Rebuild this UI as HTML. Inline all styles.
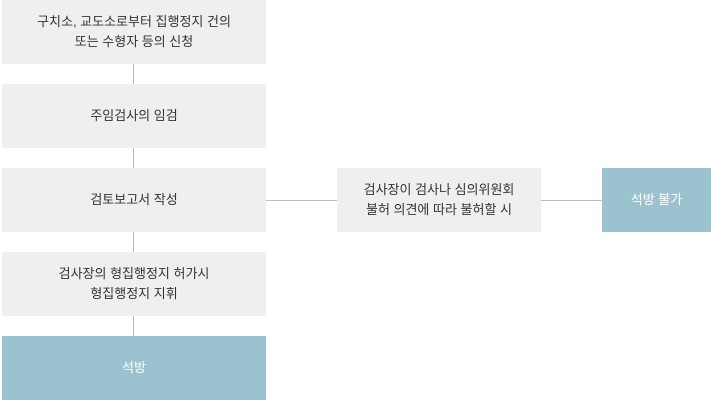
<!DOCTYPE html>
<html><head><meta charset="utf-8"><style>
body{margin:0;width:711px;height:400px;background:#fff;position:relative;overflow:hidden;font-family:"Liberation Sans","Noto Sans CJK KR",sans-serif;font-size:13px;color:#333}
.b{position:absolute;background:#efefef;display:flex;align-items:center;justify-content:center;text-align:center;line-height:20px}
.blue{background:#9bc2cf;color:#fff}
.v{position:absolute;left:133px;width:1px;background:#bbb}
.h{position:absolute;top:200px;height:1px;background:#bbb}
</style></head><body>
<div class="b" style="left:2px;top:0;width:264px;height:64px">구치소, 교도소로부터 집행정지 건의<br>또는 수형자 등의 신청</div>
<div class="v" style="top:64px;height:20px"></div>
<div class="b" style="left:2px;top:84px;width:264px;height:64px">주임검사의 임검</div>
<div class="v" style="top:148px;height:20px"></div>
<div class="b" style="left:2px;top:168px;width:264px;height:64px">검토보고서 작성</div>
<div class="v" style="top:232px;height:20px"></div>
<div class="b" style="left:2px;top:252px;width:264px;height:64px">검사장의 형집행정지 허가시<br>형집행정지 지휘</div>
<div class="v" style="top:316px;height:20px"></div>
<div class="b blue" style="left:2px;top:336px;width:264px;height:64px">석방</div>
<div class="h" style="left:266px;width:71px"></div>
<div class="b" style="left:337px;top:168px;width:204px;height:64px">검사장이 검사나 심의위원회<br>불허 의견에 따라 불허할 시</div>
<div class="h" style="left:541px;width:61px"></div>
<div class="b blue" style="left:602px;top:168px;width:109px;height:64px">석방 불가</div>
</body></html>
